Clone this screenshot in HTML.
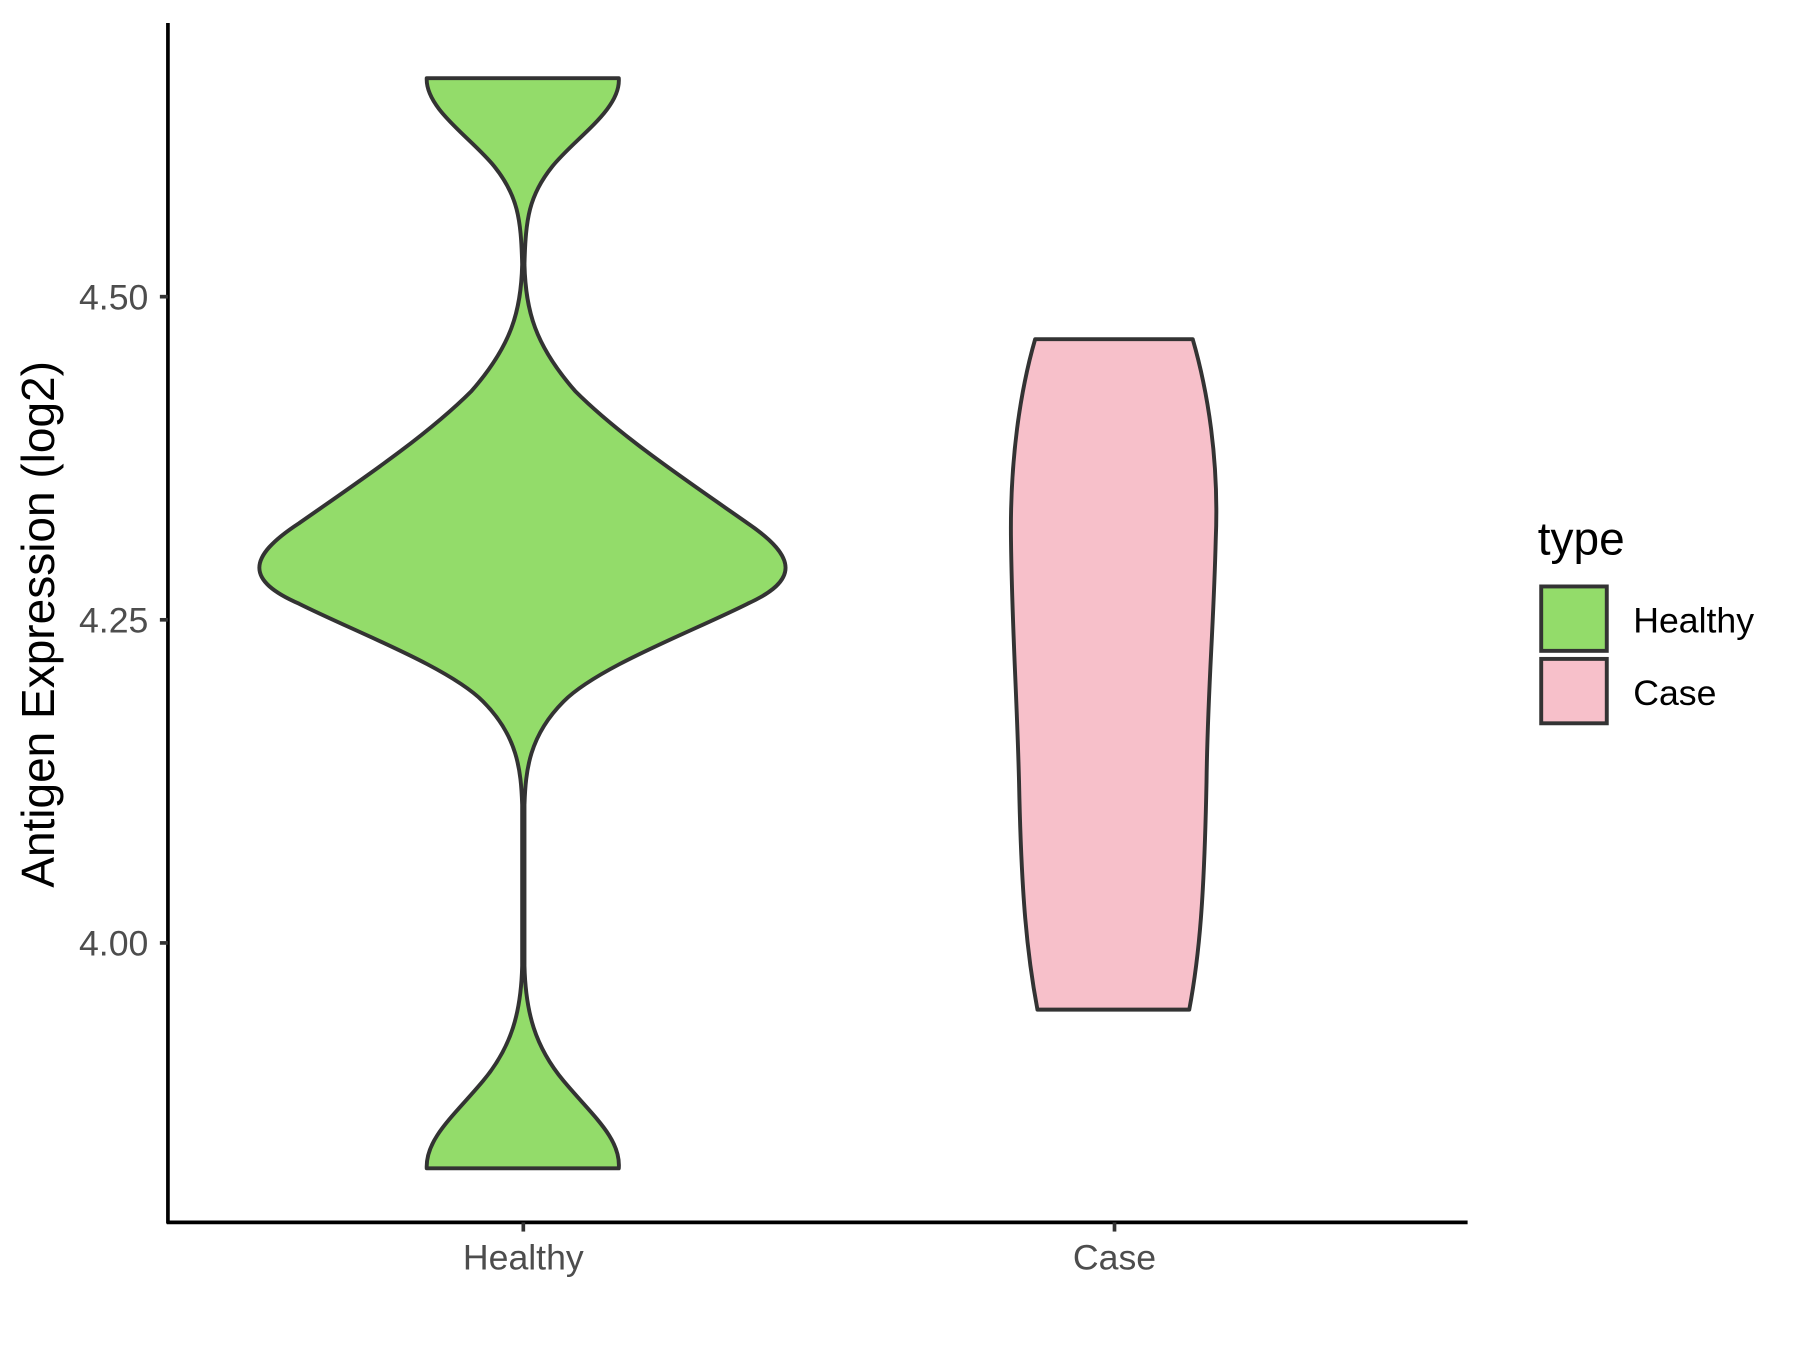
<!DOCTYPE html>
<html><head><meta charset="utf-8"><style>
html,body{margin:0;padding:0;background:#fff;}
svg{display:block;}
text{font-family:"Liberation Sans",Arial,sans-serif;}
</style></head><body>
<svg width="1800" height="1350" viewBox="0 0 1565 1174" preserveAspectRatio="none" xmlns="http://www.w3.org/2000/svg">
<rect width="1565" height="1174" fill="#fff"/>
<path d="M 371,68 L 538,68 C 540,95 500,120 480,145 C 460,170 457,190 456,230 C 457,270 465,300 500,340 C 540,380 600,420 650,455 C 694,485 694,505 650,525 C 600,550 520,580 490,610 C 460,640 457,670 456,700 L 456,840 C 457,880 465,910 490,940 C 515,970 540,990 538,1016 L 371,1016 C 370,990 395,970 420,940 C 445,910 453,880 454,840 L 454,700 C 453,670 450,640 420,610 C 390,580 310,550 260,525 C 214,505 214,485 260,455 C 310,420 370,380 410,340 C 445,300 453,270 454,230 C 453,190 450,170 430,145 C 410,120 370,95 371,68 Z" fill="#93dc6a" stroke="#333" stroke-width="3.4" stroke-linejoin="round"/>
<path d="M 900,295 L 1037,295 C 1050,340 1060,400 1057,470 C 1055,550 1050,600 1049,680 C 1047,780 1043,830 1034,878 L 902,878 C 893,830 888,780 886,680 C 884,600 880,550 879,470 C 878,400 887,340 900,295 Z" fill="#f7c0ca" stroke="#333" stroke-width="3.4" stroke-linejoin="round"/>
<g stroke="#000" stroke-width="3.2">
<line x1="146" y1="20" x2="146" y2="1064"/>
<line x1="145" y1="1063" x2="1276" y2="1063"/>
</g>
<g stroke="#333" stroke-width="3.2">
<line x1="139" y1="258" x2="146" y2="258"/>
<line x1="139" y1="539" x2="146" y2="539"/>
<line x1="139" y1="820" x2="146" y2="820"/>
<line x1="455" y1="1063" x2="455" y2="1071"/>
<line x1="969" y1="1063" x2="969" y2="1071"/>
</g>
<g fill="#4d4d4d" font-size="31" text-anchor="end">
<text x="129" y="269">4.50</text>
<text x="129" y="550">4.25</text>
<text x="129" y="831">4.00</text>
</g>
<g fill="#4d4d4d" font-size="31" text-anchor="middle">
<text x="455" y="1104">Healthy</text>
<text x="969" y="1104">Case</text>
</g>
<text transform="translate(47,543) rotate(-90)" text-anchor="middle" font-size="40" fill="#000">Antigen Expression (log2)</text>
<text x="1337" y="482" font-size="40" fill="#000">type</text>
<rect x="1340" y="510" width="57" height="56" fill="#93dc6a" stroke="#333" stroke-width="3.4"/>
<rect x="1340" y="573" width="57" height="56" fill="#f7c0ca" stroke="#333" stroke-width="3.4"/>
<text x="1420" y="550" font-size="31" fill="#000">Healthy</text>
<text x="1420" y="613" font-size="31" fill="#000">Case</text>
</svg>
</body></html>
